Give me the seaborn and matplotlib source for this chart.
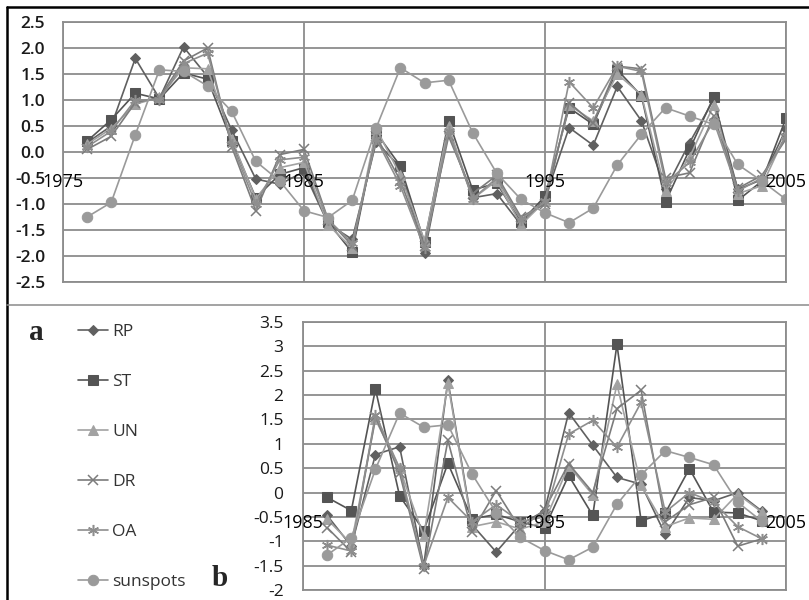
import numpy as np
import pandas as pd
import matplotlib
matplotlib.use("Agg")
import matplotlib.pyplot as plt
import seaborn as sns
from matplotlib.lines import Line2D

# ---------------- data ----------------
years_a = list(range(1976, 2006))
years_b = list(range(1986, 2005))

rp_a = [0.18, 0.5, 1.8, 1.03, 2.02, 1.45, 0.42, -0.52, -0.62, -0.38,
        -1.38, -1.68, 0.2, -0.3, -1.94, 0.4, -0.88, -0.8, -1.4, -0.9,
        0.47, 0.13, 1.26, 0.6, -0.72, 0.18, 1.01, -0.72, -0.53, 0.44]
st_a = [0.21, 0.62, 1.13, 1.02, 1.52, 1.4, 0.21, -0.88, -0.43, -0.3,
        -1.35, -1.93, 0.37, -0.27, -1.74, 0.6, -0.73, -0.6, -1.35, -0.85,
        0.85, 0.53, 1.58, 1.08, -0.96, 0.05, 1.06, -0.93, -0.56, 0.65]
un_a = [0.15, 0.45, 0.92, 1.05, 1.62, 1.6, 0.25, -0.9, -0.3, -0.2,
        -1.4, -1.85, 0.45, -0.45, -1.7, 0.5, -0.9, -0.55, -1.4, -0.95,
        0.9, 0.6, 1.5, 1.1, -0.75, -0.1, 0.9, -0.8, -0.65, 0.35]
dr_a = [0.05, 0.3, 0.95, 1.05, 1.75, 2.0, 0.1, -1.13, -0.05, 0.05,
        -1.3, -1.8, 0.3, -0.55, -1.8, 0.3, -0.8, -0.45, -1.25, -1.0,
        0.95, 0.55, 1.65, 1.6, -0.5, -0.4, 0.7, -0.7, -0.45, 0.25]
oa_a = [0.1, 0.4, 1.0, 1.0, 1.7, 1.9, 0.15, -1.0, -0.15, -0.1,
        -1.3, -1.75, 0.25, -0.65, -1.85, 0.4, -0.9, -0.5, -1.3, -0.95,
        1.35, 0.85, 1.65, 1.55, -0.6, -0.2, 0.6, -0.75, -0.5, 0.3]
sun_a = [-1.25, -0.97, 0.33, 1.58, 1.55, 1.27, 0.78, -0.18, -0.56, -1.13,
         -1.26, -0.93, 0.47, 1.62, 1.33, 1.38, 0.37, -0.41, -0.91, -1.17,
         -1.36, -1.08, -0.25, 0.34, 0.85, 0.69, 0.53, -0.24, -0.56, -0.91]

rp_b = [-0.47, -1.1, 0.78, 0.94, -1.5, 2.3, -0.66, -1.22, -0.65, -0.38,
        1.64, 0.97, 0.31, 0.17, -0.86, -0.1, -0.17, 0.0, -0.38]
st_b = [-0.1, -0.37, 2.12, -0.07, -0.78, 0.6, -0.54, -0.45, -0.6, -0.73,
        0.35, -0.47, 3.04, -0.58, -0.42, 0.49, -0.4, -0.42, -0.58]
un_b = [-0.55, -1.05, 1.5, 0.5, -0.9, 2.25, -0.7, -0.6, -0.75, -0.6,
        0.55, -0.05, 2.22, 0.15, -0.7, -0.52, -0.55, -0.03, -0.4]
dr_b = [-0.72, -1.22, 1.55, 0.4, -1.57, 1.07, -0.8, 0.04, -0.75, -0.35,
        0.59, 0.0, 1.72, 2.1, -0.6, -0.25, -0.1, -1.1, -0.95]
oa_b = [-1.08, -1.2, 1.6, 0.5, -1.5, -0.1, -0.6, -0.25, -0.6, -0.5,
        1.2, 1.48, 0.93, 1.85, -0.4, 0.0, -0.2, -0.7, -0.95]
sun_b = [-1.28, -0.93, 0.48, 1.63, 1.34, 1.39, 0.38, -0.41, -0.92, -1.19,
         -1.38, -1.12, -0.24, 0.36, 0.86, 0.72, 0.57, -0.2, -0.59]

series_names = ["RP", "ST", "UN", "DR", "OA", "sunspots"]
xlabels_a = ["1975", "1985", "1995", "2005"]
xlabels_b = ["1985", "1995", "2005"]
yticks_a = [-2.5, -2.0, -1.5, -1.0, -0.5, 0.0, 0.5, 1.0, 1.5, 2.0, 2.5]
yticks_b = [-2, -1.5, -1, -0.5, 0, 0.5, 1, 1.5, 2, 2.5, 3, 3.5]

data_a = dict(zip(series_names, [rp_a, st_a, un_a, dr_a, oa_a, sun_a]))
data_b = dict(zip(series_names, [rp_b, st_b, un_b, dr_b, oa_b, sun_b]))

# ---------------- style ----------------
sns.set_theme(style="white")
plt.rcParams["font.family"] = ["Open Sans", "DejaVu Sans"]

styles = {
    "RP": dict(color="#606060", marker="D", markersize=5.5),
    "ST": dict(color="#545454", marker="s", markersize=7.5),
    "UN": dict(color="#a2a2a2", marker="^", markersize=7),
    "DR": dict(color="#7c7c7c", marker="x", markersize=7, markeredgewidth=1.1),
    "OA": dict(color="#8e8e8e", marker=(6, 2, 0), markersize=8, markeredgewidth=1.1),
    "sunspots": dict(color="#9a9a9a", marker="o", markersize=7.5),
}
grid_c = "#8c8c8c"

W, H = 809, 600
fig = plt.figure(figsize=(W / 100, H / 100), dpi=100)
fig.patch.set_facecolor("white")

ax_a = fig.add_axes([63 / W, 1 - 282 / H, (786 - 63) / W, (282 - 22) / H])
ax_b = fig.add_axes([303 / W, 1 - 590 / H, (786 - 303) / W, (590 - 322) / H])


def draw(ax, years, data):
    for name in series_names:
        st = dict(styles[name])
        mec = st["color"]
        sns.lineplot(x=years, y=data[name], ax=ax, linewidth=1.2,
                     markeredgecolor=mec, label=name, legend=False, **st)


draw(ax_a, years_a, data_a)
draw(ax_b, years_b, data_b)

for ax, xl, yt, ylim in [(ax_a, xlabels_a, yticks_a, (-2.5, 2.5)),
                         (ax_b, xlabels_b, yticks_b, (-2, 3.5))]:
    xt = [int(v) for v in xl]
    ax.set_xlim(xt[0], xt[-1])
    ax.set_ylim(*ylim)
    ax.set_xticks(xt)
    ax.set_yticks(yt)
    ax.grid(True, color=grid_c, linewidth=1.3)
    ax.tick_params(axis="x", length=0, labelbottom=False)
    for sp in ax.spines.values():
        sp.set_color(grid_c)
        sp.set_linewidth(1.3)
    ax.set_xlabel("")
    ax.set_ylabel("")
    ax.set_facecolor("white")

ax_a.set_yticklabels([f"{v:.1f}" for v in yticks_a], fontweight="semibold")
ax_a.tick_params(axis="y", length=4.3, width=1.1, color=grid_c, pad=8.5,
                 labelsize=12.5, labelcolor="#1a1a1a")
ax_b.set_yticklabels([f"{v:g}" for v in yticks_b])
ax_b.tick_params(axis="y", length=5.0, width=1.1, color=grid_c, pad=9.0,
                 labelsize=12.5, labelcolor="#1a1a1a")

for lab in xlabels_a:
    ax_a.text(int(lab), -0.58, lab, ha="center", va="center", fontsize=13,
              color="black", clip_on=False)
for lab in xlabels_b:
    ax_b.text(int(lab), -0.62, lab, ha="center", va="center", fontsize=13,
              color="black", clip_on=False)

# legend
handles = ax_a.lines[:len(series_names)]
fig.legend(handles, series_names, loc="upper left",
           bbox_to_anchor=(78 / W, 1 - 324 / H), frameon=False, fontsize=12.5,
           labelspacing=1.95, handlelength=1.72, handletextpad=0.25,
           borderpad=0, borderaxespad=0, labelcolor="#333333")

# panel labels
fig.text(36 / W, 1 - 332 / H, "a", fontfamily=["Liberation Serif"],
         fontweight="bold", fontsize=21, ha="center", va="center")
fig.text(220 / W, 1 - 578 / H, "b", fontfamily=["Liberation Serif"],
         fontweight="bold", fontsize=21, ha="center", va="center")

# frame lines
fig.add_artist(Line2D([7 / W, 7 / W], [0, 1 - 7 / H], color="black", linewidth=1.8,
                      transform=fig.transFigure))
fig.add_artist(Line2D([7 / W, 1], [1 - 7 / H, 1 - 7 / H], color="black",
                      linewidth=1.8, transform=fig.transFigure))
fig.add_artist(Line2D([7 / W, 1], [1 - 305 / H, 1 - 305 / H], color="#8a8a8a",
                      linewidth=1.1, transform=fig.transFigure))

fig.savefig("out.png", dpi=100, facecolor="white")
